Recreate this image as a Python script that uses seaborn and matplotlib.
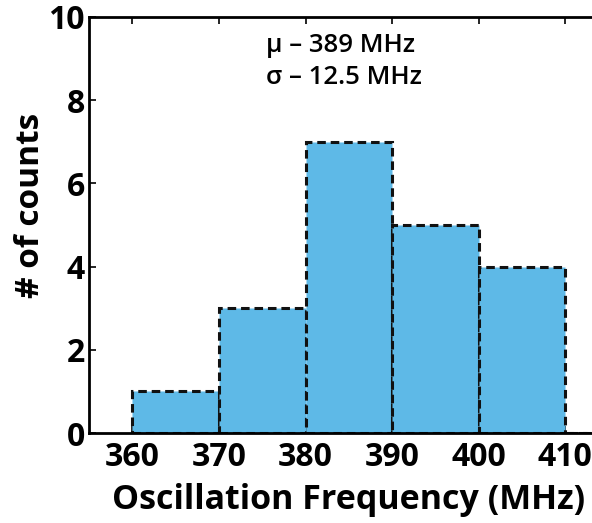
import matplotlib
matplotlib.use("Agg")
import matplotlib.pyplot as plt
import seaborn as sns
import pandas as pd

# Data
bin_centers = [365, 375, 385, 395, 405, 415]
counts = [1, 3, 7, 5, 4, 0]
bin_edges = [360, 370, 380, 390, 400, 410, 420]
x_ticks = [360, 370, 380, 390, 400, 410]
y_ticks = [0, 2, 4, 6, 8, 10]
annotation_lines = ["μ – 389 MHz", "σ – 12.5 MHz"]

sns.set_theme(style="ticks")
plt.rcParams['font.family'] = ['Open Sans', 'DejaVu Sans']
plt.rcParams['text.color'] = 'black'
plt.rcParams['axes.labelcolor'] = 'black'
plt.rcParams['xtick.color'] = 'black'
plt.rcParams['ytick.color'] = 'black'

df = pd.DataFrame({"freq": bin_centers, "n": counts})

fig = plt.figure(figsize=(5.92, 5.23), dpi=100)
ax = fig.add_axes([89/592, 90/523, 519.6/592, 416/523])

sns.histplot(data=df, x="freq", weights="n", bins=bin_edges, ax=ax,
             color="#5EB9E7", alpha=1.0, edgecolor="#111111",
             linestyle=(0, (2.8, 1.6)), linewidth=2.2)

ax.set_xlim(355, 415)
ax.set_ylim(0, 10)
ax.set_xticks(x_ticks)
ax.set_yticks(y_ticks)
ax.tick_params(direction="in", length=5, width=1.2, top=True, right=True,
               labelsize=23, colors="black")
ax.tick_params(axis="x", pad=6)
ax.tick_params(axis="y", pad=3)
for lbl in ax.get_xticklabels() + ax.get_yticklabels():
    lbl.set_fontweight("bold")
for s in ax.spines.values():
    s.set_linewidth(2.0)
    s.set_color("black")

ax.set_xlabel("Oscillation Frequency (MHz)", fontsize=24.5, fontweight="bold", labelpad=6)
ax.set_ylabel("# of counts", fontsize=24, fontweight="bold")
ax.yaxis.set_label_coords(-0.08, 0.548)

ax.text(266/592, 1 - 46/523, annotation_lines[0], transform=fig.transFigure,
        fontsize=18.5, fontweight="semibold", va="center", ha="left", color="black")
ax.text(266/592, 1 - 77/523, annotation_lines[1], transform=fig.transFigure,
        fontsize=18.5, fontweight="semibold", va="center", ha="left", color="black")

fig.savefig("out.png", dpi=100)
